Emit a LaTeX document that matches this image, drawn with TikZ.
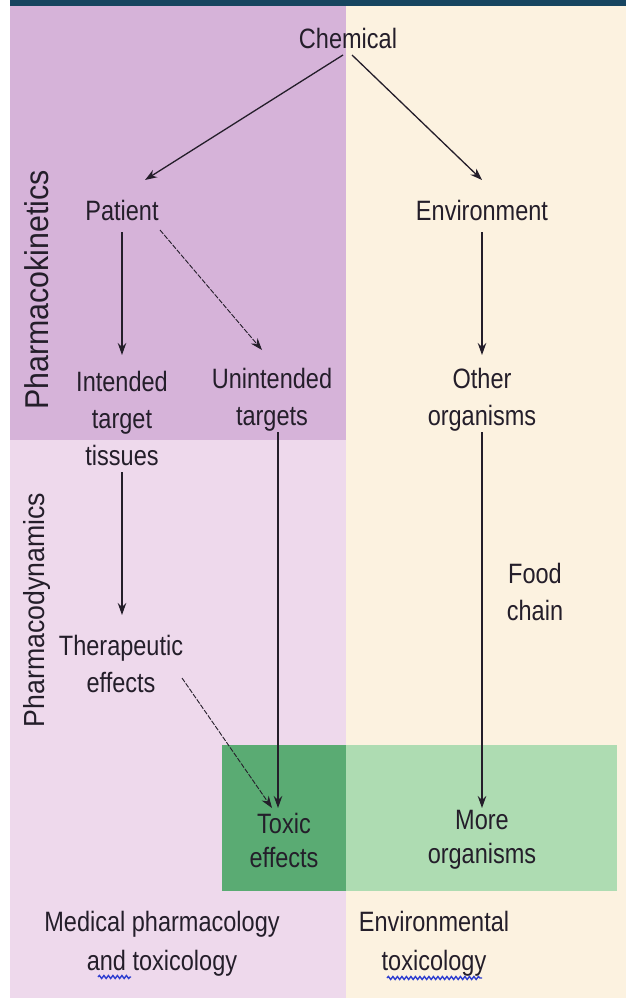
\documentclass[tikz,border=0pt]{standalone}
\usepackage{fontspec}
\setmainfont{Liberation Sans}[FakeStretch=0.84]
\newfontfamily\rotfont{Liberation Sans}[FakeStretch=0.92]
\usetikzlibrary{arrows.meta,decorations.pathmorphing}
\definecolor{topbar}{HTML}{174560}
\definecolor{purpk}{HTML}{D6B3D9}
\definecolor{pinkpd}{HTML}{EED9EC}
\definecolor{creamenv}{HTML}{FCF2E0}
\definecolor{dgreen}{HTML}{5AAB73}
\definecolor{lgreen}{HTML}{AEDCB2}
\definecolor{txt}{HTML}{241E2A}
\definecolor{squig}{HTML}{2F3FD0}
\tikzset{
  lbl/.style={inner sep=0pt, align=center, text=txt, font=\fontsize{28}{37}\selectfont},
  lblb/.style={lbl, font=\fontsize{28}{39}\selectfont},
  lblc/.style={lbl, font=\fontsize{28}{34}\selectfont},
  sidelbl/.style={inner sep=0pt, rotate=90, text=txt},
  arr/.style={draw=txt, line width=1.3pt, -{Stealth[length=12pt,width=8.5pt]}},
  thinarr/.style={arr, line width=0.9pt, dash pattern=on 5pt off 1.5pt},
  wavy/.style={draw=squig, line width=1.4pt, decorate, decoration={snake, amplitude=1.5pt, segment length=4.5pt}}
}
\begin{document}
\begin{tikzpicture}[x=1pt,y=-1pt]
\useasboundingbox (0,0) rectangle (626,998);
% backgrounds
\fill[white] (0,0) rectangle (626,998);
\fill[creamenv] (346,6) rectangle (626,998);
\fill[pinkpd] (10,6) rectangle (346,998);
\fill[purpk] (10,6) rectangle (346,440);
\fill[topbar] (10,0) rectangle (626,6);
\fill[lgreen] (346,745) rectangle (617,891);
\fill[dgreen] (222,745) rectangle (346,891);

% side labels
\node[sidelbl, font=\rotfont\fontsize{33}{33}\selectfont] (pk) at (37,290) {Pharmacokinetics};
\node[sidelbl, font=\rotfont\fontsize{29}{29}\selectfont] (pd) at (37,610) {Pharmacodynamics};

% nodes
\node[lbl] (chem) at (348,38) {Chemical};
\node[lbl] (pat) at (122,210) {Patient};
\node[lbl] (env) at (482,210) {Environment};
\node[lbl] (intd) at (122,418) {Intended\\target\\tissues};
\node[lbl] (unint) at (272,400) {Unintended\\targets};
\node[lbl] (other) at (482,400) {Other\\organisms};
\node[lbl] (food) at (535,592) {Food\\chain};
\node[lbl] (ther) at (121,664) {Therapeutic\\effects};
\node[lblc] (toxic) at (284,840) {Toxic\\effects};
\node[lblc] (more) at (482,840) {More\\organisms};
\node[lblb] (med) at (162,944) {Medical pharmacology\\and toxicology};
\node[lblb] (envtox) at (434,944) {Environmental\\toxicology};

% connectors
\draw[arr] ([xshift=-5pt,yshift=-17pt]chem.center) -- ([xshift=23pt,yshift=30pt]pat.center);
\draw[arr] ([xshift=4pt,yshift=-17pt]chem.center) -- ([yshift=30pt]env.center);
\draw[arr] ([yshift=-22pt]pat.center) -- ([yshift=63pt]intd.center);
\draw[thinarr] ([xshift=38pt,yshift=-20pt]pat.center) -- ([xshift=-10pt,yshift=50pt]unint.center);
\draw[arr] ([yshift=-22pt]env.center) -- ([yshift=45pt]other.center);
\draw[arr] ([yshift=-54pt]intd.center) -- ([xshift=1pt,yshift=49pt]ther.center);
\draw[arr] ([xshift=6pt,yshift=-32pt]unint.center) -- ([xshift=-6pt,yshift=32pt]toxic.center);
\draw[arr] ([yshift=-32pt]other.center) -- ([yshift=32pt]more.center);
\draw[thinarr] ([xshift=61pt,yshift=-14pt]ther.center) -- ([xshift=-12pt,yshift=32pt]toxic.center);

% spell-check squiggles
\draw[wavy] (98,977) -- (131,977);
\draw[wavy] (387,978) -- (482,978);
\end{tikzpicture}
\end{document}
